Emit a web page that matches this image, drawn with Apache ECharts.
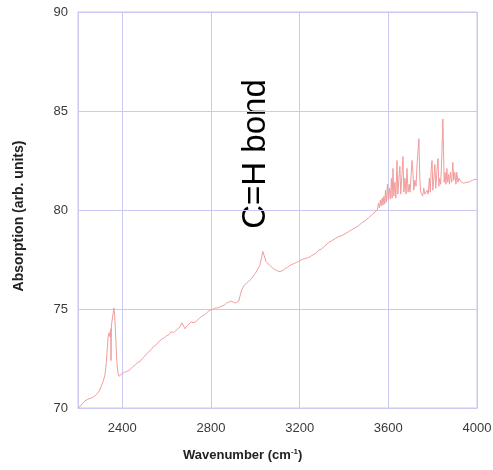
<!DOCTYPE html>
<html>
<head>
<meta charset="utf-8">
<script src="https://cdn.jsdelivr.net/npm/echarts@6/dist/echarts.min.js"></script>
<style>
  html, body { margin: 0; padding: 0; background: #fff; }
  #chart { width: 493px; height: 470px; }
</style>
</head>
<body>
<div id="chart"></div>
<script>
/* spectrum values: [wavenumber, absorption] */
var lowBand = [
	[2200,70.0],[2215,70.15],[2230,70.35],[2245,70.45],[2260,70.5],[2275,70.6],[2285,70.7],
	[2295,70.85],[2305,71.1],[2315,71.4],[2322,71.7],[2328,72.3],[2332,73.0],[2336,73.6],
	[2340,73.8],[2344,73.6],[2347,74.0],[2349,72.4],[2351,74.2],[2356,74.6],[2362,75.05],
	[2366,74.6],[2370,73.6],[2375,72.4],[2380,71.8],[2385,71.6],[2392,71.7],[2400,71.75]
];
var midBand = [
	[2410,71.8],[2420,71.85],[2430,71.9],[2440,72.0],[2450,72.1],[2460,72.2],[2470,72.3],
	[2480,72.35],[2490,72.5],[2500,72.6],[2510,72.75],[2520,72.85],[2530,72.95],[2540,73.1],
	[2550,73.15],[2560,73.3],[2570,73.4],[2580,73.5],[2590,73.55],[2600,73.65],[2610,73.7],
	[2620,73.85],[2630,73.8],[2640,73.9],[2650,74.0],[2660,74.1],[2668,74.3],[2675,74.2],
	[2683,74.0],[2692,74.15],[2700,74.2],[2710,74.35],[2720,74.3],[2730,74.35],[2740,74.45],
	[2750,74.55],[2760,74.65],[2770,74.7],[2780,74.8],[2790,74.9],[2800,74.95],[2810,75.0],
	[2820,75.05],[2830,75.05],[2840,75.1],[2850,75.15],[2860,75.2],[2870,75.3],[2880,75.35],
	[2890,75.4],[2900,75.35],[2910,75.3],[2918,75.25],[2925,75.4],[2932,75.7],[2940,76.0],
	[2950,76.2],[2960,76.3],[2970,76.4],[2980,76.5],[2990,76.65],[3000,76.8],[3010,77.0],
	[3020,77.2],[3028,77.6],[3034,77.9],[3040,77.7],[3048,77.4],[3056,77.3],[3065,77.2],
	[3075,77.1],[3085,77.0],[3095,76.95],[3105,76.9],[3115,76.9],[3125,76.95],[3135,77.05],
	[3145,77.1],[3155,77.2],[3165,77.25],[3175,77.3],[3185,77.35],[3195,77.4],[3210,77.5],
	[3225,77.55],[3240,77.6],[3255,77.7],[3270,77.8],[3285,77.95],[3300,78.05],[3315,78.2],
	[3330,78.35],[3345,78.45],[3360,78.55],[3375,78.65],[3390,78.7],[3405,78.8],[3420,78.9],
	[3435,79.0],[3450,79.1],[3465,79.2],[3480,79.35],[3495,79.45],[3510,79.6],[3525,79.75],
	[3540,79.9],[3550,80.0]
];
var highBand = [
	[3556,80.35],[3560,80.1],[3564,80.5],[3568,80.2],[3572,80.6],[3576,80.25],[3580,80.7],
	[3584,80.3],[3587,81.0],[3591,80.4],[3596,81.3],[3600,80.5],[3605,81.1],[3609,80.55],
	[3614,81.6],[3617,80.6],[3621,82.1],[3625,80.7],[3630,81.4],[3634,80.6],[3639,82.5],
	[3643,80.8],[3647,81.5],[3652,82.2],[3656,80.8],[3661,81.7],[3666,82.7],[3670,80.9],
	[3675,81.6],[3680,80.8],[3684,82.1],[3689,80.9],[3694,81.3],[3698,80.9],[3703,81.8],
	[3707,82.5],[3711,81.9],[3715,81.0],[3720,81.5],[3725,81.2],[3730,82.4],[3734,83.0],
	[3738,83.6],[3742,81.6],[3746,80.9],[3750,81.0],[3755,80.7],[3760,81.1],[3765,80.8],
	[3770,80.75],[3775,81.0],[3780,80.8],[3785,81.6],[3789,80.9],[3793,82.0],[3797,82.5],
	[3801,81.0],[3806,81.7],[3810,82.3],[3814,81.1],[3818,81.8],[3824,82.6],[3828,81.2],
	[3832,81.6],[3836,81.3],[3840,82.3],[3844,83.8],[3846,84.6],[3849,83.0],[3852,81.4],
	[3856,81.9],[3860,81.3],[3864,82.1],[3868,81.4],[3872,81.8],[3876,81.3],[3880,81.9],
	[3886,81.4],[3891,82.4],[3895,81.5],[3900,81.9],[3905,81.3],[3909,81.9],[3914,81.4],
	[3918,81.6],[3923,81.5],[3930,81.4],[3940,81.35],[3950,81.4],[3960,81.4],[3970,81.45],
	[3980,81.5],[3990,81.55],[4000,81.55]
];
var xTicks = [2400, 2800, 3200, 3600, 4000];
var yTicks = [70, 75, 80, 85, 90];

function spectrumChart(){
	var dom = document.getElementById('chart');
	var myChart = echarts.init(dom, null, {
		renderer: 'canvas',
		useDirtyRect: false
	});
	var gridColor = '#c9c9f2';
	var labelFont = { color: '#3a3a3a', fontSize: 13, fontFamily: 'Liberation Sans' };

	var option = {
		animation: false,
		grid: {
			left: 78,
			right: 16,
			top: 12,
			bottom: 62,
			show: true,
			outerBoundsMode: 'none',
			containLabel: false,
			borderColor: gridColor,
			borderWidth: 1
		},
		xAxis: {
			type: 'value',
			min: 2200,
			max: 4000,
			axisLine: { lineStyle: { color: gridColor } },
			axisTick: { show: false, customValues: xTicks },
			axisLabel: Object.assign({
				margin: 14,
				customValues: xTicks,
				formatter: function (v) { return String(v); }
			}, labelFont),
			splitLine: { show: true, lineStyle: { color: gridColor, width: 1 } }
		},
		yAxis: {
			type: 'value',
			min: 70,
			max: 90,
			interval: 5,
			axisLine: { show: true, lineStyle: { color: gridColor } },
			axisTick: { show: false },
			axisLabel: Object.assign({ margin: 10 }, labelFont),
			splitLine: { show: true, lineStyle: { color: gridColor, width: 1 } }
		},
		graphic: [
			{
				type: 'text',
				x: 19,
				y: 216,
				rotation: Math.PI / 2,
				style: {
					text: 'Absorption (arb. units)',
					fontSize: 14,
					fontWeight: 'bold',
					fill: '#222',
					fontFamily: 'Liberation Sans',
					align: 'center',
					verticalAlign: 'middle'
				}
			},
			{
				type: 'text',
				left: 183,
				top: 448,
				style: {
					text: '{t|Wavenumber (cm}{s|-1}{t|)}',
					rich: {
						t: { fontSize: 13, fontWeight: 'bold', fill: '#222', fontFamily: 'Liberation Sans' },
						s: { fontSize: 8, fontWeight: 'bold', fill: '#222', fontFamily: 'Liberation Sans', verticalAlign: 'top', padding: [0, 0, 7, 0] }
					}
				}
			},
			{
				type: 'text',
				x: 256,
				y: 154,
				rotation: Math.PI / 2,
				style: {
					text: 'C=H bond',
					fontSize: 33,
					fontFamily: 'Liberation Sans',
					fill: '#000',
					align: 'center',
					verticalAlign: 'middle'
				}
			}
		],
		series: [
			{
				name: 'Absorption',
				type: 'line',
				showSymbol: false,
				color: '#f29c9c',
				lineStyle: { width: 1, color: '#f29c9c' },
				data: lowBand.concat(midBand, highBand)
			}
		]
	};

	if (option && typeof option === 'object') {
		myChart.setOption(option);
	}
	window.addEventListener('resize', myChart.resize);
}
spectrumChart()
</script>
</body>
</html>
